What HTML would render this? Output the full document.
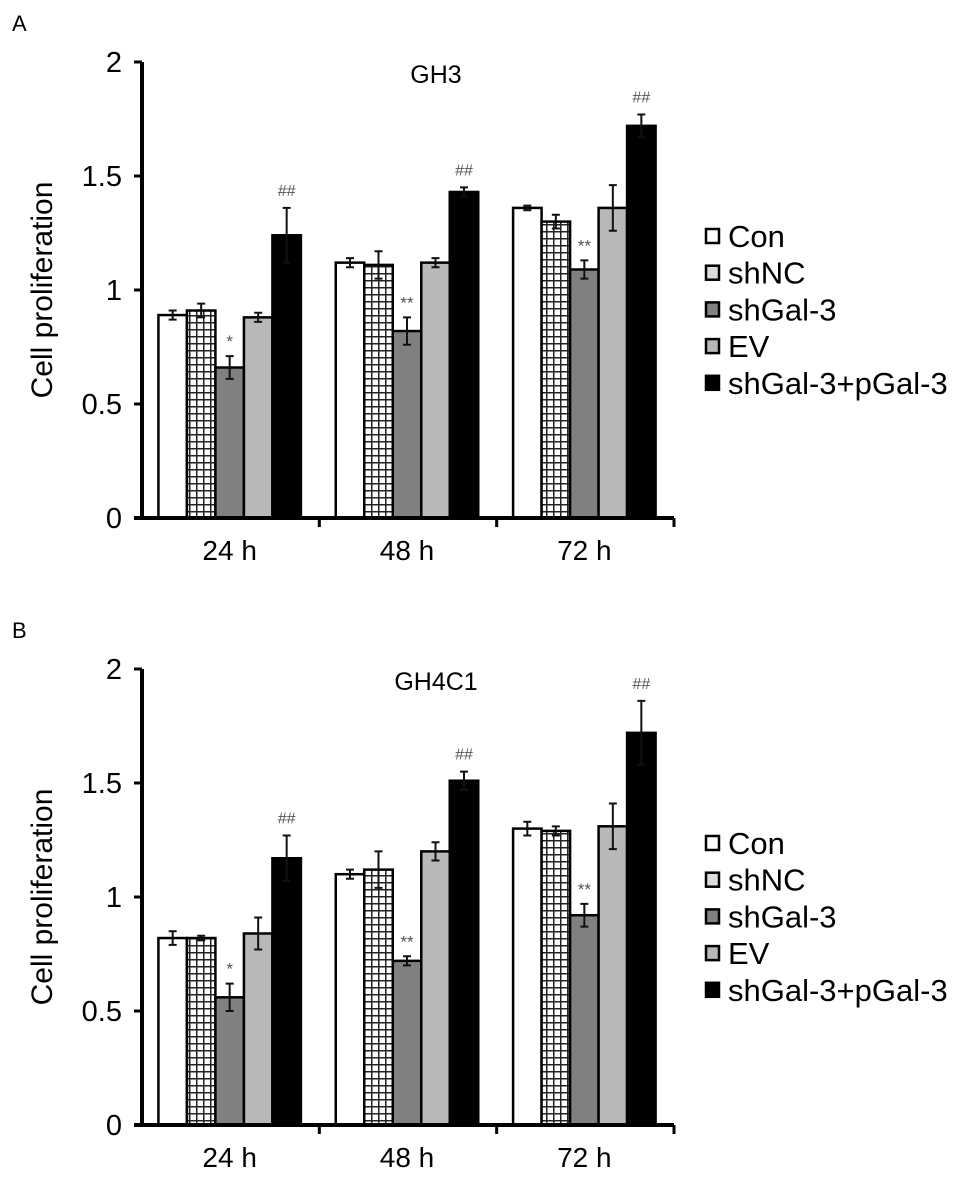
<!DOCTYPE html>
<html><head><meta charset="utf-8"><style>
html,body{margin:0;padding:0;background:#fff;}
svg{display:block;font-family:"Liberation Sans",Arial,sans-serif;}
</style></head><body>
<svg id="fig" width="969" height="1182" viewBox="0 0 969 1182">
<defs>
<pattern id="grid" width="7" height="7" patternUnits="userSpaceOnUse">
<rect width="7" height="7" fill="#fff"/>
<path d="M0 0.75H7M0.75 0V7" stroke="#222" stroke-width="1.5"/>
</pattern>
</defs>
</svg>
<script>
const categories = ["24 h","48 h","72 h"];
const seriesNames = ["Con","shNC","shGal-3","EV","shGal-3+pGal-3"];
const yTicks = [0,0.5,1,1.5,2];
const yTickLabels = ["0","0.5","1","1.5","2"];
// Panel A (GH3)
const gh3Con = [0.89,1.12,1.36];
const gh3ShNC = [0.91,1.11,1.30];
const gh3ShGal = [0.66,0.82,1.09];
const gh3EV = [0.88,1.12,1.36];
const gh3Rescue = [1.24,1.43,1.72];
const gh3ErrCon = [0.02,0.02,0.01];
const gh3ErrShNC = [0.03,0.06,0.03];
const gh3ErrShGal = [0.05,0.06,0.04];
const gh3ErrEV = [0.02,0.02,0.10];
const gh3ErrRescue = [0.12,0.02,0.05];
const gh3Marks = ["*","**","**"];
// Panel B (GH4C1)
const gh4Con = [0.82,1.10,1.30];
const gh4ShNC = [0.82,1.12,1.29];
const gh4ShGal = [0.56,0.72,0.92];
const gh4EV = [0.84,1.20,1.31];
const gh4Rescue = [1.17,1.51,1.72];
const gh4ErrCon = [0.03,0.02,0.03];
const gh4ErrShNC = [0.01,0.08,0.02];
const gh4ErrShGal = [0.06,0.02,0.05];
const gh4ErrEV = [0.07,0.04,0.10];
const gh4ErrRescue = [0.10,0.04,0.14];
const gh4Marks = ["*","**","**"];

const NS="http://www.w3.org/2000/svg";
const svg=document.getElementById('fig');
const fills=["#ffffff","url(#grid)","#808080","#b8b8b8","#000000"];
function mk(tag,attrs,parent,text){const e=document.createElementNS(NS,tag);for(const k in attrs)e.setAttribute(k,attrs[k]);if(text!==undefined)e.textContent=text;(parent||svg).appendChild(e);return e;}

function panel(o){
  const g=mk('g',{});
  
  
  const off=o.off;
  const x0=142,x1=674,y0=518+off,per=114;
  const Y=v=>y0-v/0.5*per;
  const groupW=(x1-x0)/3, bw=28.5;
  const GX=i=>x0+groupW*(i+0.5)-1;
  const lt=mk('text',{x:12,y:31+off,'font-size':22},g,o.letter);
  
  
  const tt=mk('text',{x:436,y:83+off,'font-size':25,'text-anchor':'middle'},g,o.title);
  
  
  const yt=mk('text',{transform:`translate(52,${Y(1)}) rotate(-90)`,'font-size':30,'text-anchor':'middle'},g,'Cell proliferation');
  
  
  categories.forEach((c,ci)=>{
    const cx=GX(ci);
    o.vals.forEach((arr,si)=>{
      const v=arr[ci], e=o.errs[si][ci];
      const bx=cx-2.5*bw+si*bw;
      const r=mk('rect',{x:bx,y:Y(v),width:bw,height:y0-Y(v),fill:fills[si],stroke:'#000','stroke-width':2.5},g);
      
      
      const mx=bx+bw/2;
      const eb=mk('path',{d:`M${mx} ${Y(v+e)}V${Y(v-e)}M${mx-4} ${Y(v+e)}H${mx+4}M${mx-4} ${Y(v-e)}H${mx+4}`,stroke:'#111','stroke-width':2,fill:'none'},g);
      
      
      if(si===2){
        const t=mk('text',{x:mx,y:Y(v+e)-9,'font-size':17,fill:'#555','text-anchor':'middle'},g,o.marks[ci]);
        
        
      }
      if(si===4){
        const t=mk('text',{x:mx,y:Y(v+e)-12,'font-size':16,fill:'#555','text-anchor':'middle'},g,'##');
        
        
      }
    });
    const xl=mk('text',{x:cx,y:y0+42,'font-size':28,'text-anchor':'middle'},g,c);
    
    
  });
  const ax=mk('path',{d:`M${x0} ${Y(2)}V${y0}M${x0-8} ${y0}H${x1}`,stroke:'#000','stroke-width':4,fill:'none'},g);
  
  
  yTicks.forEach((t,i)=>{
    const tk=mk('path',{d:`M${x0-8} ${Y(t)}H${x0}`,stroke:'#000','stroke-width':3},g);
    
    
    const tl=mk('text',{x:x0-20,y:Y(t)+10,'font-size':29,'text-anchor':'end'},g,yTickLabels[i]);
    
    
  });
  [1,2,3].forEach(i=>{
    const tk=mk('path',{d:`M${x0+groupW*i} ${y0}V${y0+9}`,stroke:'#000','stroke-width':3},g);
    
    
  });
  seriesNames.forEach((n,i)=>{
    const ly=236+off+i*36.7;
    const lg=mk('g',{},g);
    
    
    mk('rect',{x:706,y:ly-7,width:13,height:14,fill:i===1?'#ddd':fills[i],stroke:'#000','stroke-width':2.5},lg);
    mk('text',{x:728,y:ly+11,'font-size':31},lg,n);
  });
}
panel({id:'a',letter:'A',title:'GH3',off:0,vals:[gh3Con,gh3ShNC,gh3ShGal,gh3EV,gh3Rescue],errs:[gh3ErrCon,gh3ErrShNC,gh3ErrShGal,gh3ErrEV,gh3ErrRescue],marks:gh3Marks});
panel({id:'b',letter:'B',title:'GH4C1',off:607,vals:[gh4Con,gh4ShNC,gh4ShGal,gh4EV,gh4Rescue],errs:[gh4ErrCon,gh4ErrShNC,gh4ErrShGal,gh4ErrEV,gh4ErrRescue],marks:gh4Marks});
</script>
</body></html>
